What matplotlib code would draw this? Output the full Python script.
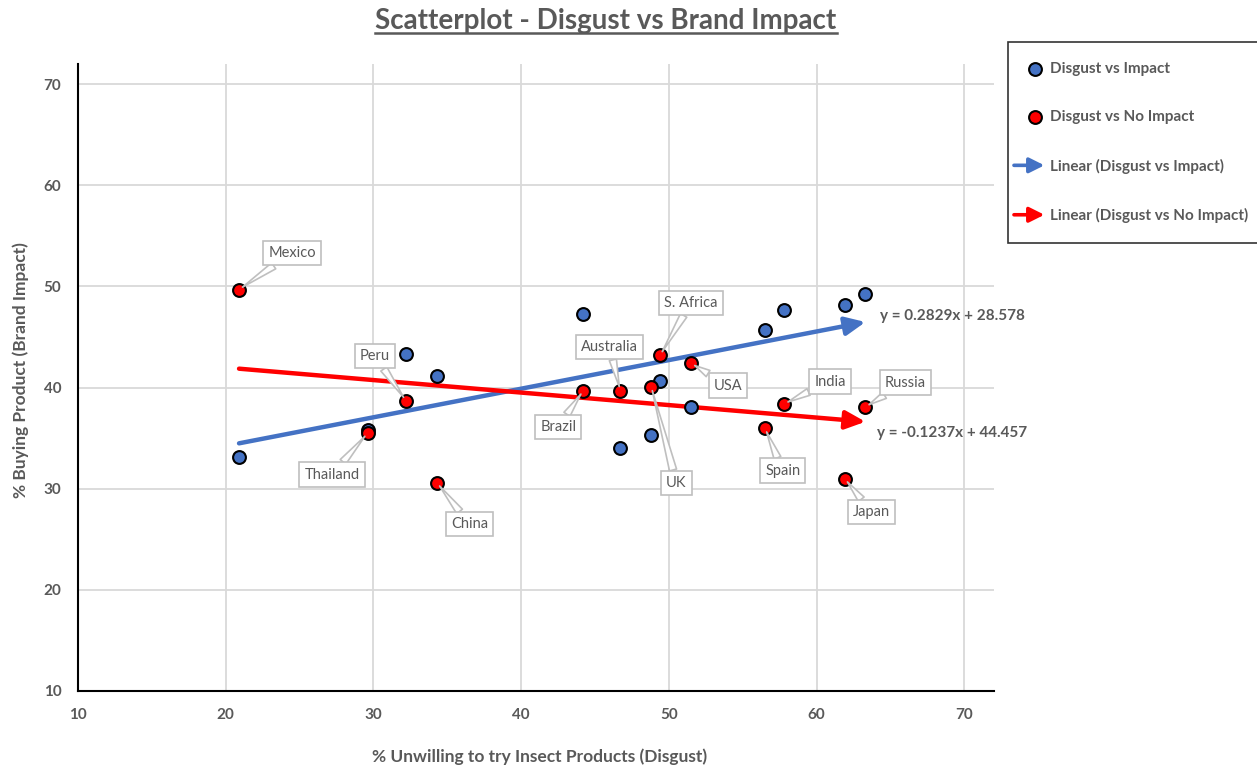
import matplotlib
matplotlib.use("Agg")
import matplotlib.pyplot as plt
from matplotlib.lines import Line2D
from matplotlib.patches import FancyArrowPatch
from matplotlib.legend_handler import HandlerBase

plt.rcParams['font.family'] = ['Lato', 'DejaVu Sans']

# Survey results by country
countries = ["Mexico", "Thailand", "Peru", "China", "Brazil", "Australia", "UK",
             "S. Africa", "USA", "Spain", "India", "Japan", "Russia"]
disgust = [20.9, 29.6, 32.2, 34.3, 44.2, 46.7, 48.8, 49.4, 51.5, 56.5, 57.8, 61.9, 63.3]
buy_impact = [33.1, 35.8, 43.3, 41.1, 47.3, 34.0, 35.3, 40.7, 38.1, 45.7, 47.7, 48.2, 49.3]
buy_no_impact = [49.7, 35.5, 38.7, 30.6, 39.7, 39.7, 40.1, 43.2, 42.4, 36.0, 38.4, 31.0, 38.1]

# Linear trend coefficients (slope, intercept)
fit_impact = (0.2829, 28.578)
fit_no_impact = (-0.1237, 44.457)

# Callout box centres for the country labels
label_pos = {
    "Mexico": (24.5, 53.3), "Peru": (30.1, 43.1), "Thailand": (27.2, 31.4),
    "China": (36.5, 26.5), "Brazil": (42.5, 36.1), "Australia": (46.0, 44.0),
    "S. Africa": (51.5, 48.4), "USA": (54.0, 40.2), "UK": (50.5, 30.6),
    "India": (60.9, 40.6), "Russia": (66.0, 40.5), "Spain": (57.7, 31.8),
    "Japan": (63.7, 27.7),
}

BLUE = "#4472C4"
RED = "#FF0000"
GREY = "#595959"
GRID = "#D9D9D9"

fig = plt.figure(figsize=(12.57, 7.68), dpi=100)
ax = fig.add_axes([78 / 1257, 77 / 768, (994 - 78) / 1257, (691 - 64) / 768])

ax.set_xlim(10, 72)
ax.set_ylim(10, 72)
ax.set_xticks(range(10, 71, 10))
ax.set_yticks(range(10, 71, 10))
ax.grid(True, color=GRID, lw=1.3)
ax.set_axisbelow(True)
for s in ("top", "right"):
    ax.spines[s].set_visible(False)
for s in ("left", "bottom"):
    ax.spines[s].set_color("black")
    ax.spines[s].set_linewidth(1.5)
ax.tick_params(length=0, pad=12, labelsize=11, labelcolor=GREY)
for lbl in ax.get_xticklabels() + ax.get_yticklabels():
    lbl.set_fontweight("bold")


def trend(fit, color, label):
    x0, x1 = min(disgust), max(disgust)
    m, b = fit
    arr = FancyArrowPatch((x0, m * x0 + b), (x1, m * x1 + b),
                          arrowstyle="-|>,head_length=12,head_width=5.5",
                          mutation_scale=1, lw=3.2, color=color,
                          shrinkA=0, shrinkB=0, zorder=3)
    ax.add_patch(arr)
    return Line2D([], [], color=color, label=label)


h_line_impact = trend(fit_impact, BLUE, "Linear (Disgust vs Impact)")
h_line_no = trend(fit_no_impact, RED, "Linear (Disgust vs No Impact)")

h_impact = ax.scatter(disgust, buy_impact, s=85, c=BLUE, edgecolors="black",
                      linewidths=1.5, zorder=4, label="Disgust vs Impact")
h_no = ax.scatter(disgust, buy_no_impact, s=85, c=RED, edgecolors="black",
                  linewidths=1.5, zorder=5, label="Disgust vs No Impact")

for name, x, y in zip(countries, disgust, buy_no_impact):
    tx, ty = label_pos[name]
    ax.annotate(name, xy=(x, y), xytext=(tx, ty), ha="center", va="center",
                fontsize=10.5, color=GREY, zorder=6,
                bbox=dict(boxstyle="square,pad=0.35", fc="white", ec="#BFBFBF", lw=1.2),
                arrowprops=dict(arrowstyle="wedge,tail_width=0.5,shrink_factor=0.5",
                                fc="white", ec="#BFBFBF", lw=1.2,
                                shrinkA=0, shrinkB=3))

ax.text(64.3, 47.05, "y = 0.2829x + 28.578", fontsize=11, fontweight="bold",
        color=GREY, va="center", ha="left")
ax.text(64.1, 35.5, "y = -0.1237x + 44.457", fontsize=11, fontweight="bold",
        color=GREY, va="center", ha="left")


class HandlerArrow(HandlerBase):
    def create_artists(self, legend, orig_handle, xdescent, ydescent,
                       width, height, fontsize, trans):
        y = height / 2 - ydescent
        p = FancyArrowPatch((-xdescent - 10, y), (-xdescent + width + 2, y),
                            arrowstyle="-|>,head_length=9,head_width=4.5",
                            mutation_scale=1, lw=2.6, color=orig_handle.get_color(),
                            shrinkA=0, shrinkB=0, transform=trans)
        return [p]


leg = fig.legend(handles=[h_impact, h_no, h_line_impact, h_line_no],
                 loc="upper left", bbox_to_anchor=(1008 / 1257, 1 - 42 / 768),
                 frameon=True, fancybox=False, edgecolor="black",
                 fontsize=11, labelspacing=2.25, handlelength=0.9,
                 handletextpad=0.55, borderpad=1.3, borderaxespad=0,
                 handler_map={Line2D: HandlerArrow()})
leg.get_frame().set_linewidth(1.2)
for t in leg.get_texts():
    t.set_color(GREY)
    t.set_fontweight("bold")

title = fig.text(606 / 1257, 1 - 21 / 768, "Scatterplot - Disgust vs Brand Impact",
                 ha="center", va="center", fontsize=20, fontweight="bold", color=GREY)
fig.text(540 / 1257, 1 - 757 / 768, "% Unwilling to try Insect Products (Disgust)",
         ha="center", va="center", fontsize=12.5, fontweight="bold", color=GREY)
fig.text(21 / 1257, 1 - 370 / 768, "% Buying Product (Brand Impact)", rotation=90,
         ha="center", va="center", fontsize=12.5, fontweight="bold", color=GREY)

# Underline the title
fig.canvas.draw()
bb = title.get_window_extent()
uy = bb.y0 + 1
fig.add_artist(Line2D([bb.x0 / 1257, bb.x1 / 1257], [uy / 768, uy / 768],
                      transform=fig.transFigure, color=GREY, lw=1.8))

fig.savefig("out.png", dpi=100)
